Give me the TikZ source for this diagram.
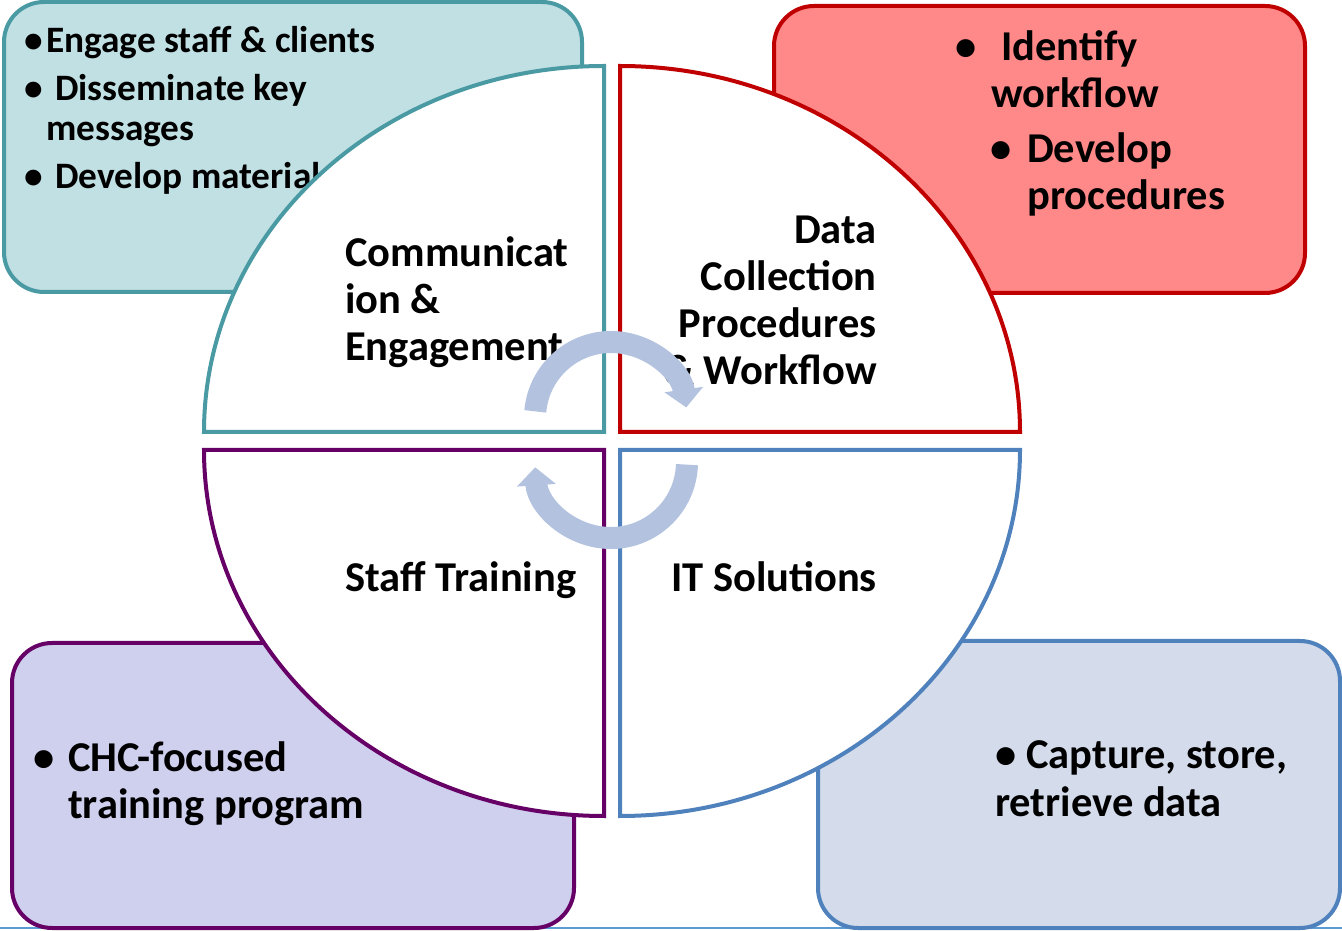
\documentclass[tikz,border=0pt]{standalone}
\usepackage{fontspec}
\setmainfont{Carlito}
\usetikzlibrary{arrows.meta}

\definecolor{comline}{HTML}{4A9AA4}
\definecolor{comfill}{HTML}{C0E0E4}
\definecolor{datline}{HTML}{C00000}
\definecolor{datfill}{HTML}{FF8888}
\definecolor{trnline}{HTML}{660066}
\definecolor{trnfill}{HTML}{CFCFEE}
\definecolor{itline}{HTML}{4F81BD}
\definecolor{itfill}{HTML}{D4DBEA}
\definecolor{cycle}{HTML}{B3C3DF}
\definecolor{rule}{HTML}{5B9BD5}

\newcommand{\bul}[1]{\makebox[#1][l]{\textbullet}}

\begin{document}
\begin{tikzpicture}[x=1pt,y=1pt]
	\tikzset{box/.style={line width=4pt, rounded corners=40pt}}
	\tikzset{quad/.style={line width=4pt, fill=white}}
	\tikzset{title/.style={font=\fontsize{42.5}{47}\selectfont\bfseries, inner sep=0pt}}
	\tikzset{item/.style={font=\fontsize{42.5}{47}\selectfont\bfseries, inner sep=0pt, anchor=base west, align=left}}
	\tikzset{small/.style={font=\fontsize{37.3}{40}\selectfont\bfseries}}
	\tikzset{turn/.style={line width=22pt, draw=cycle, -{Triangle[width=38pt,length=18pt]}}}
	\useasboundingbox (0,0) rectangle (1342,930);
	%Bottom rule
	\draw[rule, line width=2pt] (0,2) -- (1342,2);
	%Corner boxes
	\draw[box, draw=comline, fill=comfill] (4,638) rectangle (582,928);
	\draw[box, draw=datline, fill=datfill] (774,637) rectangle (1305,924);
	\draw[box, draw=trnline, fill=trnfill] (12,2) rectangle (574,287);
	\draw[box, draw=itline, fill=itfill] (818,2) rectangle (1340,289);
	%Box texts
	\node[item, small] at (24,877) (engage) {\bul{22pt}Engage staff \& clients};
	\node[item, small] at (24,789) (dissem) {\bul{31pt}Disseminate key\\\hspace*{22pt}messages};
	\node[item, small] at (24,741) (develop) {\bul{31pt}Develop material};
	\node[item] at (955,822) (identify) {\bul{46pt}Identify\\\hspace*{36pt}workflow};
	\node[item] at (990,720) (procs) {\bul{37pt}Develop\\\hspace*{37pt}procedures};
	\node[item] at (33,112) (chc) {\bul{35pt}CHC-focused\\\hspace*{35pt}training program};
	\node[item] at (995,114) (capture) {\bul{31pt}Capture, store,\\retrieve data};
	%Quadrants
	\draw[quad, draw=comline] (604,498) -- (204,498) arc[start angle=180, end angle=90, x radius=400, y radius=366] -- cycle;
	\draw[quad, draw=datline] (620,498) -- (620,864) arc[start angle=90, end angle=0, x radius=400, y radius=366] -- cycle;
	\draw[quad, draw=trnline] (604,480) -- (204,480) arc[start angle=180, end angle=270, x radius=400, y radius=366] -- cycle;
	\draw[quad, draw=itline] (620,480) -- (1020,480) arc[start angle=0, end angle=-90, x radius=400, y radius=366] -- cycle;
	%Quadrant titles
	\node[title, anchor=base west, align=left] at (345,569) (comm) {Communicat\\ion \&\\Engagement};
	\node[title, anchor=base east, align=right] at (877,545) (data) {Data\\Collection\\Procedures\\\& Workflow};
	\node[title, anchor=base west] at (345,338) (staff) {Staff Training};
	\node[title, anchor=base east] at (877,338) (itsol) {IT Solutions};
	%Cycle arrows
	\draw[turn] (611,512) ++(175:76) arc[start angle=175, end angle=8, radius=76];
	\draw[turn] (611,468) ++(-2:76) arc[start angle=-2, end angle=-176, radius=76];
\end{tikzpicture}
\end{document}
